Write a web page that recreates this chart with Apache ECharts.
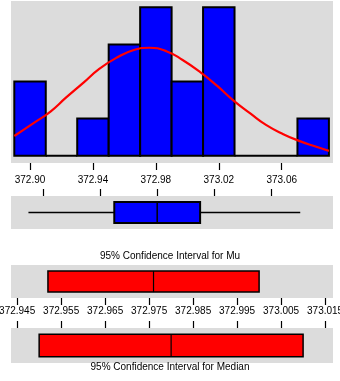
<!DOCTYPE html>
<html>
<head>
<meta charset="utf-8">
<script src="https://cdn.jsdelivr.net/npm/echarts@6/dist/echarts.min.js"></script>
<style>html,body{margin:0;padding:0;background:#fff}#c{width:340px;height:381px}</style>
</head>
<body>
<div id="c"></div>
<script>
// Histogram bins (edges) and counts
var binLo = [372.89, 372.91, 372.93, 372.95, 372.97, 372.99, 373.01, 373.03, 373.05, 373.07];
var binHi = [372.91, 372.93, 372.95, 372.97, 372.99, 373.01, 373.03, 373.05, 373.07, 373.09];
var binCount = [2, 0, 1, 3, 4, 2, 4, 0, 0, 1];
// Fitted normal curve
var curveX = [372.89, 372.902, 372.913, 372.923, 372.934, 372.944, 372.955, 372.966, 372.976, 372.987, 372.997, 373.008, 373.019, 373.029, 373.040, 373.050, 373.061, 373.071, 373.082, 373.09];
var curveY = [0.53, 0.87, 1.19, 1.57, 1.97, 2.34, 2.64, 2.85, 2.91, 2.81, 2.58, 2.26, 1.88, 1.50, 1.14, 0.83, 0.58, 0.40, 0.24, 0.13];
// Boxplot: min, Q1, median, Q3, max
var boxStats = [372.89, 372.95, 372.98, 373.01, 373.08];
// Confidence intervals: low, centre, high
var ciMu = [372.952, 372.976, 373.000];
var ciMedian = [372.950, 372.980, 373.010];
// Tick values
var histTicks = [372.90, 372.94, 372.98, 373.02, 373.06];
var ciTicks = [372.945, 372.955, 372.965, 372.975, 372.985, 372.995, 373.005, 373.015];
var titleMu = '95% Confidence Interval for Mu';
var titleMedian = '95% Confidence Interval for Median';

var FONT = 'Liberation Sans, Arial, sans-serif';
var BG = '#dcdcdc';
var chart = echarts.init(document.getElementById('c'), null, {renderer: 'canvas'});

var barData = binLo.map(function (lo, i) { return [lo, binHi[i], binCount[i]]; });
var curveData = curveX.map(function (x, i) { return [x, curveY[i]]; });

function baseGrid(top, height) {
  return {left: 11, top: top, width: 322, height: height, show: true, backgroundColor: BG, borderWidth: 0,
          containLabel: false, outerBoundsMode: 'none'};
}
function hiddenY(idx, min, max) {
  return {type: 'value', gridIndex: idx, min: min, max: max, show: false};
}

function ciRender(colorFill) {
  return function (params, api) {
    var lo = api.value(0), mid = api.value(1), hi = api.value(2);
    var p1 = api.coord([lo, 0.82]);
    var p2 = api.coord([hi, 0.18]);
    var m1 = api.coord([mid, 0.82]);
    var m2 = api.coord([mid, 0.18]);
    return {type: 'group', children: [
      {type: 'rect', shape: {x: p1[0], y: p1[1], width: p2[0] - p1[0], height: p2[1] - p1[1]},
       style: {fill: colorFill, stroke: '#000', lineWidth: 1.5}},
      {type: 'line', shape: {x1: m1[0], y1: m1[1], x2: m2[0], y2: m2[1]}, style: {stroke: '#000', lineWidth: 1.2}}
    ]};
  };
}

function xAx(idx, min, max, pos, ticks, tickLen, labelOpt) {
  return {type: 'value', gridIndex: idx, min: min, max: max, position: pos,
    axisLine: {show: false, onZero: false}, splitLine: {show: false},
    axisTick: {show: true, inside: false, length: tickLen, customValues: ticks, lineStyle: {color: '#000', width: 1.2}},
    axisLabel: labelOpt || {show: false}};
}

var option = {
  animation: false,
  grid: [baseGrid(1, 162), baseGrid(196, 33), baseGrid(265, 33), baseGrid(328, 35)],
  xAxis: [
    xAx(0, 372.8879, 373.0926, 'bottom', histTicks, 7,
      {show: true, customValues: histTicks, margin: 12, color: '#000', fontSize: 10, fontFamily: FONT,
       formatter: function (v) { return v.toFixed(2); }}),
    xAx(1, 372.8778, 373.1029, 'top', histTicks, 7),
    xAx(2, 372.9436, 373.0168, 'bottom', ciTicks, 7,
      {show: true, customValues: ciTicks, margin: 8, color: '#000', fontSize: 10, fontFamily: FONT,
       formatter: function (v) { return v.toFixed(3); }}),
    xAx(3, 372.9436, 373.0168, 'top', ciTicks, 7)
  ],
  yAxis: [hiddenY(0, -0.197, 4.17), hiddenY(1, 0, 1), hiddenY(2, 0, 1), hiddenY(3, 0, 1)],
  graphic: [
    {type: 'text', left: 'center', top: 251, z: 100, style: {text: titleMu, fill: '#000', font: '10px ' + FONT}},
    {type: 'text', left: 'center', top: 362, z: 100, style: {text: titleMedian, fill: '#000', font: '10px ' + FONT}}
  ],
  series: [
    {type: 'custom', xAxisIndex: 0, yAxisIndex: 0, data: barData, clip: false,
     renderItem: function (params, api) {
       var p1 = api.coord([api.value(0), api.value(2)]);
       var p2 = api.coord([api.value(1), 0]);
       return {type: 'rect', shape: {x: p1[0], y: p1[1], width: p2[0] - p1[0], height: p2[1] - p1[1]},
               style: {fill: '#0000ff', stroke: '#000', lineWidth: 2}};
     }},
    {type: 'line', xAxisIndex: 0, yAxisIndex: 0, data: curveData, smooth: true, showSymbol: false, symbol: 'none',
     lineStyle: {color: '#ff0000', width: 2.2}, z: 5},
    {type: 'custom', xAxisIndex: 1, yAxisIndex: 1, data: [boxStats],
     renderItem: function (params, api) {
       var mn = api.value(0), q1 = api.value(1), md = api.value(2), q3 = api.value(3), mx = api.value(4);
       var a = api.coord([mn, 0.5]), b = api.coord([q1, 0.5]), c = api.coord([q3, 0.5]), d = api.coord([mx, 0.5]);
       var t1 = api.coord([q1, 0.82]), t2 = api.coord([q3, 0.18]);
       var m1 = api.coord([md, 0.82]), m2 = api.coord([md, 0.18]);
       return {type: 'group', children: [
         {type: 'line', shape: {x1: a[0], y1: a[1], x2: b[0], y2: b[1]}, style: {stroke: '#000', lineWidth: 1.5}},
         {type: 'line', shape: {x1: c[0], y1: c[1], x2: d[0], y2: d[1]}, style: {stroke: '#000', lineWidth: 1.5}},
         {type: 'rect', shape: {x: t1[0], y: t1[1], width: t2[0] - t1[0], height: t2[1] - t1[1]},
          style: {fill: '#0000ff', stroke: '#000', lineWidth: 2}},
         {type: 'line', shape: {x1: m1[0], y1: m1[1], x2: m2[0], y2: m2[1]}, style: {stroke: '#000', lineWidth: 1.5}}
       ]};
     }},
    {type: 'custom', xAxisIndex: 2, yAxisIndex: 2, data: [ciMu], renderItem: ciRender('#ff0000')},
    {type: 'custom', xAxisIndex: 3, yAxisIndex: 3, data: [ciMedian], renderItem: ciRender('#ff0000')}
  ]
};
chart.setOption(option);
</script>
</body>
</html>
